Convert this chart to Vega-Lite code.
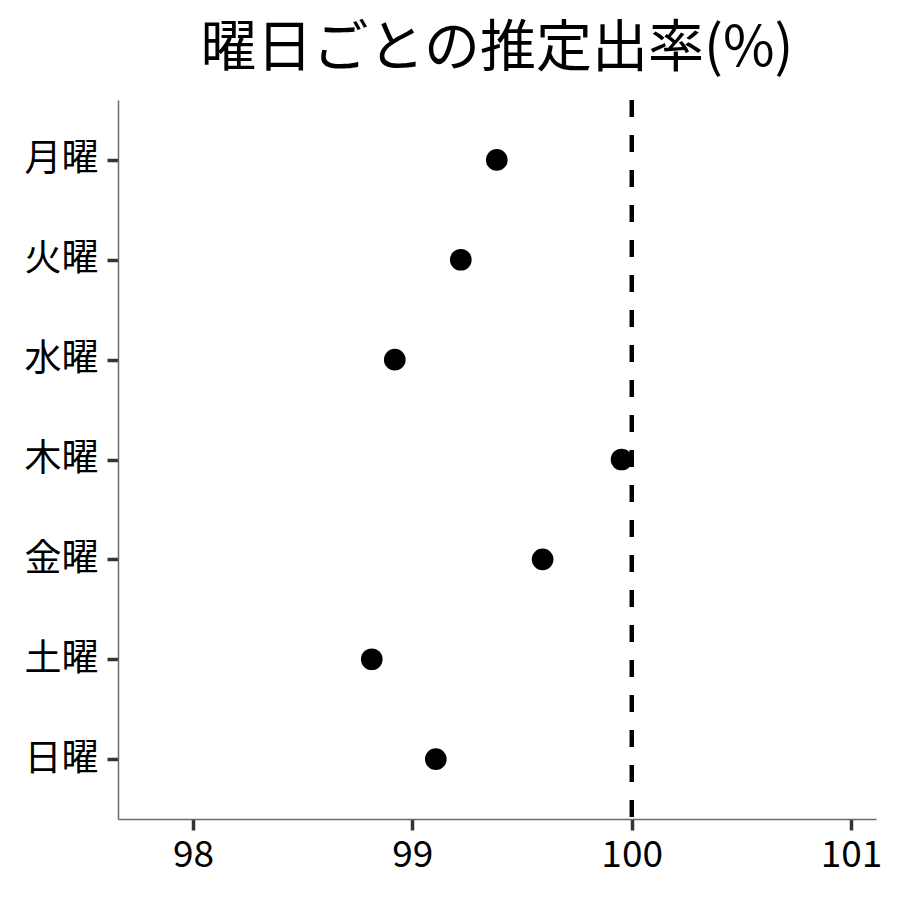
{
  "$schema": "https://vega.github.io/schema/vega-lite/v6.json",
  "autosize": "none",
  "padding": {"left": 118, "top": 100, "right": 24, "bottom": 81},
  "width": 758,
  "height": 719,
  "background": "white",
  "title": {
    "text": "曜日ごとの推定出率(%)",
    "font": "Noto Sans CJK JP",
    "fontSize": 56,
    "fontWeight": "normal",
    "color": "black",
    "anchor": "middle",
    "offset": 20
  },
  "config": {
    "view": {"stroke": null},
    "font": "Noto Sans CJK JP",
    "axis": {
      "grid": false,
      "domainColor": "#6b6b6b",
      "domainWidth": 1.5,
      "tickColor": "#333333",
      "tickWidth": 3.5,
      "tickSize": 11,
      "labelFont": "Noto Sans CJK JP",
      "labelFontSize": 37,
      "labelColor": "black",
      "title": null
    }
  },
  "data": {
    "values": [
      {"day": "月曜", "rate": 99.385},
      {"day": "火曜", "rate": 99.221},
      {"day": "水曜", "rate": 98.920},
      {"day": "木曜", "rate": 99.954},
      {"day": "金曜", "rate": 99.594},
      {"day": "土曜", "rate": 98.815},
      {"day": "日曜", "rate": 99.107}
    ]
  },
  "layer": [
    {
      "mark": {"type": "rule", "color": "black", "strokeWidth": 3.5, "strokeDash": [17, 18]},
      "encoding": {
        "x": {"datum": 100, "type": "quantitative"}
      }
    },
    {
      "mark": {"type": "point", "filled": true, "color": "black", "size": 470, "opacity": 1},
      "encoding": {
        "x": {
          "field": "rate",
          "type": "quantitative",
          "scale": {"domain": [97.658, 101.114], "nice": false, "zero": false},
          "axis": {"values": [98, 99, 100, 101], "labelPadding": 7, "format": "d"}
        },
        "y": {
          "field": "day",
          "type": "nominal",
          "sort": null,
          "scale": {"type": "point", "padding": 0.6},
          "axis": {"labelPadding": 9}
        }
      }
    }
  ]
}
